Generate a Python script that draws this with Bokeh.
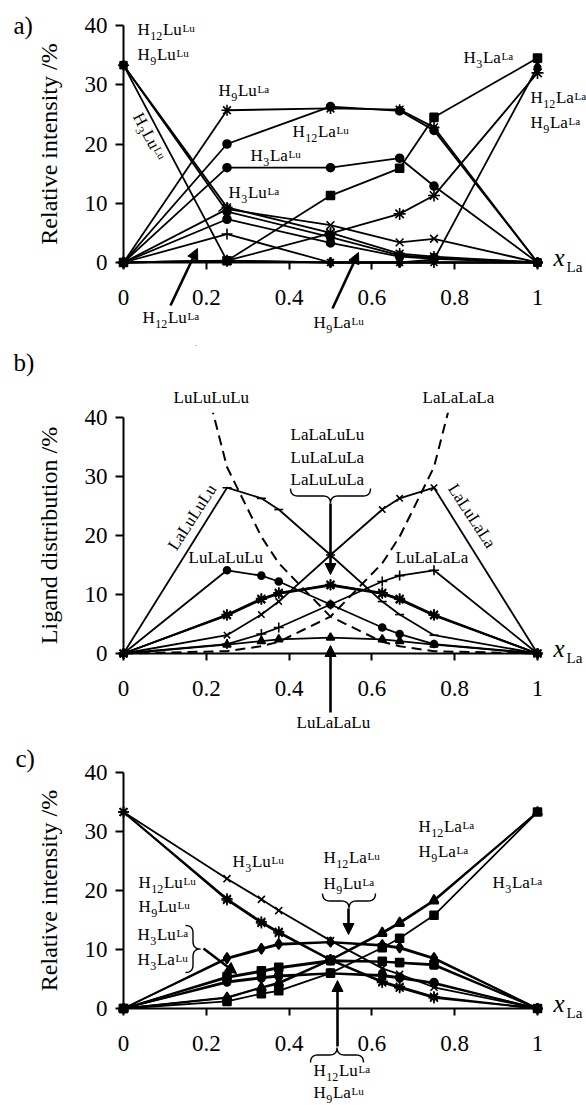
import math
from bokeh.plotting import figure
from bokeh.layouts import column
from bokeh.models import (Label, Arrow, NormalHead, PolyAnnotation, FixedTicker,
                          NumeralTickFormatter, Range1d)
from bokeh.embed import file_html
from bokeh.resources import INLINE

FONT = "Liberation Serif"

# ---------------- data ----------------
XA = [0.0, 0.25, 0.5, 0.667, 0.75, 1.0]
A_H12LuLu = [33.3, 9.3, 5.0, 1.5, 1.0, 0.0]
A_H9LuLu = [33.3, 8.6, 4.3, 1.2, 0.8, 0.0]
A_H3LuLu = [33.3, 0.3, 0.0, 0.0, 0.0, 0.0]
A_H12LuLa = [0.0, 4.8, 0.0, 0.0, 0.0, 0.0]
A_H9LuLa = [0.0, 25.7, 26.0, 25.8, 22.8, 0.0]
A_H3LuLa = [0.0, 9.0, 6.3, 3.4, 4.0, 0.0]
A_H12LaLu = [0.0, 20.0, 26.3, 25.6, 22.3, 0.0]
A_H9LaLu = [0.0, 7.3, 3.3, 1.0, 0.6, 0.0]
A_H3LaLu = [0.0, 16.0, 16.0, 17.6, 12.9, 0.0]
A_H12LaLa = [0.0, 0.3, 0.0, 0.0, 0.5, 33.0]
A_H9LaLa = [0.0, 0.3, 4.9, 8.2, 11.3, 32.0]
A_H3LaLa = [0.0, 0.3, 11.3, 15.9, 24.5, 34.5]

XB = [0.0, 0.25, 0.333, 0.375, 0.5, 0.625, 0.667, 0.75, 1.0]
B_LuLuLuLu = [100.0, 31.6, 19.8, 15.3, 6.25, 1.98, 1.23, 0.39, 0.0]
B_LaLaLaLa = [0.0, 0.39, 1.23, 1.98, 6.25, 15.3, 19.8, 31.6, 100.0]
B_LaLuLuLu = [0.0, 28.1, 26.3, 24.4, 16.7, 8.8, 6.6, 3.1, 0.0]
B_LaLuLaLa = [0.0, 3.1, 6.6, 8.8, 16.7, 24.4, 26.3, 28.1, 0.0]
B_LuLaLuLu = [0.0, 14.1, 13.2, 12.2, 8.3, 4.4, 3.3, 1.6, 0.0]
B_LuLaLaLa = [0.0, 1.6, 3.3, 4.4, 8.3, 12.2, 13.2, 14.1, 0.0]
B_LaLaLuLu = [0.0, 6.5, 9.2, 10.2, 11.7, 10.2, 9.2, 6.5, 0.0]
B_LuLaLuLa = [0.0, 6.6, 9.3, 10.3, 11.6, 10.3, 9.3, 6.6, 0.0]
B_LaLuLuLa = [0.0, 6.4, 9.1, 10.1, 11.5, 10.1, 9.1, 6.4, 0.0]
B_LuLaLaLu = [0.0, 1.5, 2.1, 2.4, 2.7, 2.4, 2.1, 1.5, 0.0]

XC = [0.0, 0.25, 0.333, 0.375, 0.5, 0.625, 0.667, 0.75, 1.0]
C_H12LuLu = [33.3, 18.6, 14.7, 13.0, 8.3, 4.6, 3.7, 2.0, 0.0]
C_H9LuLu = [33.3, 18.4, 14.5, 12.8, 8.2, 4.4, 3.5, 1.8, 0.0]
C_H3LuLu = [33.3, 22.0, 18.5, 16.6, 11.5, 6.8, 5.8, 3.6, 0.0]
C_H12LaLu = [0.0, 8.6, 10.2, 11.0, 11.3, 10.8, 10.4, 8.6, 0.0]
C_H9LuLa = [0.0, 8.4, 10.0, 10.8, 11.2, 10.6, 10.2, 8.4, 0.0]
C_H3LuLa = [0.0, 5.4, 6.4, 7.0, 8.2, 8.0, 7.8, 7.5, 0.0]
C_H3LaLu = [0.0, 5.2, 6.2, 6.8, 8.0, 7.9, 7.7, 7.3, 0.0]
C_H12LuLa = [0.0, 4.6, 5.3, 5.6, 6.0, 5.7, 5.3, 4.4, 0.0]
C_H9LaLu = [0.0, 4.4, 5.1, 5.4, 5.9, 5.5, 5.1, 4.2, 0.0]
C_H12LaLa = [0.0, 1.9, 3.6, 4.4, 8.3, 12.9, 14.6, 18.4, 33.3]
C_H9LaLa = [0.0, 1.8, 3.5, 4.2, 8.2, 12.7, 14.4, 18.2, 33.3]
C_H3LaLa = [0.0, 1.2, 2.5, 3.0, 6.0, 10.3, 11.9, 15.8, 33.3]

X_TICKS = [0, 0.2, 0.4, 0.6, 0.8, 1]
Y_TICKS = [0, 10, 20, 30, 40]

# ---------------- layout helpers ----------------
W = {'H': 0.722, 'L': 0.611, 'u': 0.5, 'a': 0.444, 'x': 0.444, ')': 0.333,
     'b': 0.5, 'c': 0.444}
BASE_K = 0.33   # empirical baseline correction (fraction of font size)
LW = 1.8


def tw(t):
    return sum(W.get(ch, 0.5) for ch in t)


X0PX, XPPU = 123.0, 414.0
FIG_W = 586


class Panel:
    def __init__(self, top, height, y0px, ppu, ylabel):
        self.y0, self.ppu = y0px, ppu
        xr = Range1d(-X0PX / XPPU, (FIG_W - X0PX) / XPPU)
        yr = Range1d((y0px - (top + height)) / ppu, (y0px - top) / ppu)
        p = figure(width=FIG_W, height=height, x_range=xr, y_range=yr,
                   output_backend="svg", toolbar_location=None,
                   min_border=0, min_border_left=0, min_border_right=0,
                   min_border_top=0, min_border_bottom=0)
        p.outline_line_color = None
        p.xgrid.visible = False
        p.ygrid.visible = False
        ax = p.xaxis[0]
        ax.fixed_location = 0
        ax.bounds = (0, 1.012)
        ax.ticker = FixedTicker(ticks=X_TICKS)
        ax.formatter = NumeralTickFormatter(format="0.[0]")
        ay = p.yaxis[0]
        ay.fixed_location = 0
        ay.bounds = (0, 40)
        ay.ticker = FixedTicker(ticks=Y_TICKS)
        for a in (ax, ay):
            a.axis_line_width = 2
            a.axis_line_color = "black"
            a.major_tick_line_width = 2
            a.major_tick_in = 0
            a.major_tick_out = 7
            a.minor_tick_out = 0
            a.minor_tick_in = 0
            a.major_label_text_font = FONT
            a.major_label_text_font_size = "23px"
            a.major_label_text_color = "black"
        ax.major_label_standoff = 20
        ay.major_tick_out = 8
        ay.major_label_standoff = 8
        ay.axis_label = ylabel
        ay.axis_label_text_font = FONT
        ay.axis_label_text_font_size = "24px"
        ay.axis_label_text_font_style = "normal"
        ay.axis_label_text_color = "black"
        ay.axis_label_standoff = 20
        self.p = p

    def d(self, px, py):
        return ((px - X0PX) / XPPU, (self.y0 - py) / self.ppu)

    def series(self, xs, ys, marker, size=9, lw=LW, dash="solid"):
        self.p.line(xs, ys, line_color="black", line_width=lw, line_dash=dash,
                    line_join="round")
        if marker:
            self.p.scatter(xs, ys, marker=marker, size=size, fill_color="black",
                           line_color="black", line_width=1.6)

    def run(self, px, py, parts, angle=0.0, italic=False):
        th = math.radians(angle)
        c, s = math.cos(th), math.sin(th)
        along = 0.0
        for txt, fs, perp in parts:
            pp = perp + BASE_K * fs
            mx = along * c - pp * s
            my = along * s + pp * c
            X, Y = self.d(px + mx, py - my)
            self.p.add_layout(Label(x=X, y=Y, text=txt, text_font=FONT,
                                    text_font_size=f"{fs}px", text_color="black",
                                    text_baseline="alphabetic", text_align="left",
                                    angle=th,
                                    text_font_style="italic" if italic else "normal"))
            along += tw(txt) * fs + 0.6

    def text(self, px, py, txt, size=17, angle=0.0):
        self.run(px, py, [(txt, size, 0)], angle)

    def chem(self, px, py, n, e1, e2, angle=0.0):
        self.run(px, py, [("H", 17, 0), (n, 12, -4), (e1, 17, 0), (e2, 11, 3.5)], angle)

    def xla(self):
        self.run(553, self.y0 + 3, [("x", 25, 0)], italic=True)
        self.run(566, self.y0 + 9, [("La", 15, 0)])

    def arrow(self, x1, y1, x2, y2, head=True):
        X1, Y1 = self.d(x1, y1)
        X2, Y2 = self.d(x2, y2)
        end = NormalHead(size=11, fill_color="black", line_color="black",
                         line_width=1) if head else None
        self.p.add_layout(Arrow(x_start=X1, y_start=Y1, x_end=X2, y_end=Y2,
                                line_width=2.6 if head else 1.6,
                                line_color="black", end=end))

    def brace(self, a0, a1, base, h, vertical=False):
        L = a1 - a0
        hh = abs(h)
        r = hh * 0.5
        sg = 1 if h > 0 else -1

        def quad(p0, c0, p2, n=7):
            pts = []
            for i in range(n + 1):
                t = i / n
                u = (1 - t) ** 2 * p0[0] + 2 * (1 - t) * t * c0[0] + t * t * p2[0]
                v = (1 - t) ** 2 * p0[1] + 2 * (1 - t) * t * c0[1] + t * t * p2[1]
                pts.append((u, v))
            return pts
        m = L / 2
        pts = []
        pts += quad((0, 0), (0, hh / 2), (r, hh / 2))
        pts += quad((m - r, hh / 2), (m, hh / 2), (m, hh))
        pts += quad((m, hh), (m, hh / 2), (m + r, hh / 2))
        pts += quad((L - r, hh / 2), (L, hh / 2), (L, 0))
        xs, ys = [], []
        for u, v in pts:
            if vertical:
                px, py = base + sg * v, a0 + u
            else:
                px, py = a0 + u, base + sg * v
            X, Y = self.d(px, py)
            xs.append(X)
            ys.append(Y)
        xs = xs + xs[::-1]
        ys = ys + ys[::-1]
        self.p.add_layout(PolyAnnotation(xs=xs, ys=ys, fill_color=None,
                                         fill_alpha=0, line_alpha=1.0,
                                         line_color="black", line_width=1.4))


# ---------------- panel a ----------------
pa = Panel(top=0, height=345, y0px=262, ppu=5.925,
           ylabel="Relative intensity /%")
for ys, mk, sz in [(A_H12LuLu, "asterisk", 11), (A_H9LuLu, "circle", 8),
                   (A_H3LuLu, "x", 10), (A_H12LuLa, "cross", 11),
                   (A_H9LuLa, "asterisk", 11), (A_H3LuLa, "x", 11),
                   (A_H12LaLu, "circle", 8), (A_H9LaLu, "circle", 8),
                   (A_H3LaLu, "circle", 8), (A_H12LaLa, "diamond", 10),
                   (A_H9LaLa, "asterisk", 12), (A_H3LaLa, "square", 8)]:
    pa.series(XA, ys, mk, sz)
pa.chem(137, 35, "12", "Lu", "Lu")
pa.chem(137, 60, "9", "Lu", "Lu")
pa.chem(218, 96, "9", "Lu", "La")
pa.chem(132, 116, "3", "Lu", "Lu", angle=-62)
pa.chem(292, 137, "12", "La", "Lu")
pa.chem(250, 161, "3", "La", "Lu")
pa.chem(228, 198, "3", "Lu", "La")
pa.chem(463, 63, "3", "La", "La")
pa.chem(530, 103, "12", "La", "La")
pa.chem(530, 128, "9", "La", "La")
pa.chem(142, 323, "12", "Lu", "La")
pa.chem(313, 328, "9", "La", "Lu")
pa.arrow(170, 305, 197, 248)
pa.arrow(332, 308, 358, 252)
pa.arrow(228, 203, 218, 211, head=False)
pa.run(13, 33, [("a)", 25, 0)])
pa.xla()

# ---------------- panel b ----------------
pb = Panel(top=345, height=395, y0px=653, ppu=5.9,
           ylabel="Ligand distribution /%")
pb.series(XB, B_LuLuLuLu, None, lw=2, dash="10 6")
pb.series(XB, B_LaLaLaLa, None, lw=2, dash="10 6")
# the plot area ends just above 40 %: hide the dashed curves beyond it
pb.p.quad(left=[0.05], right=[0.95], bottom=[40.8], top=[90.0],
          fill_color="white", line_color=None)
for ys, mk, sz in [(B_LaLuLuLu, "dash", 9), (B_LaLuLaLa, "x", 9),
                   (B_LuLaLuLu, "circle", 7), (B_LuLaLaLa, "cross", 10),
                   (B_LaLaLuLu, "asterisk", 11), (B_LuLaLuLa, "asterisk", 11),
                   (B_LaLuLuLa, "x", 10), (B_LuLaLaLu, "triangle", 8)]:
    pb.series(XB, ys, mk, sz)
pb.run(13, 370, [("b)", 25, 0)])
pb.text(173, 403, "LuLuLuLu")
pb.text(422, 403, "LaLaLaLa")
pb.text(290, 440, "LaLaLuLu")
pb.text(290, 463, "LuLaLuLa")
pb.text(290, 485, "LaLuLuLa")
pb.text(188, 563, "LuLaLuLu")
pb.text(395, 563, "LuLaLaLa")
pb.text(176, 551, "LaLuLuLu", angle=57)
pb.text(447, 488, "LaLuLaLa", angle=-57)
pb.text(296, 728, "LuLaLaLu")
pb.brace(290, 370, 488, 15)
pb.arrow(330, 503, 330, 574)
pb.arrow(330, 712, 330, 645)
pb.xla()

# ---------------- panel c ----------------
pc = Panel(top=740, height=365, y0px=1008, ppu=5.9,
           ylabel="Relative intensity /%")
for ys, mk, sz in [(C_H12LuLu, "asterisk", 11), (C_H9LuLu, "asterisk", 11),
                   (C_H3LuLu, "x", 10), (C_H12LaLu, "diamond", 10),
                   (C_H9LuLa, "diamond", 9), (C_H3LuLa, "square", 8),
                   (C_H3LaLu, "square", 7), (C_H12LuLa, "circle", 8),
                   (C_H9LaLu, "circle", 7), (C_H12LaLa, "triangle", 9),
                   (C_H9LaLa, "triangle", 9), (C_H3LaLa, "square", 8)]:
    pc.series(XC, ys, mk, sz)
pc.chem(232, 867, "3", "Lu", "Lu")
pc.chem(138, 888, "12", "Lu", "Lu")
pc.chem(138, 912, "9", "Lu", "Lu")
pc.chem(137, 940, "3", "Lu", "La")
pc.chem(137, 965, "3", "La", "Lu")
pc.chem(323, 863, "12", "La", "Lu")
pc.chem(323, 889, "9", "Lu", "La")
pc.chem(418, 832, "12", "La", "La")
pc.chem(418, 857, "9", "La", "La")
pc.chem(492, 888, "3", "La", "La")
pc.chem(313, 1076, "12", "Lu", "La")
pc.chem(313, 1098, "9", "La", "Lu")
pc.brace(925, 972, 185, 15, vertical=True)
pc.brace(322, 375, 893, 15)
pc.brace(310, 363, 1062, -15)
pc.arrow(203, 948, 236, 973)
pc.arrow(348, 908, 348, 934)
pc.arrow(337, 1046, 337, 980)
pc.run(15, 766, [("c)", 25, 0)])
pc.xla()

layout = column(pa.p, pb.p, pc.p)
open("out.html", "w").write(file_html(layout, INLINE))
